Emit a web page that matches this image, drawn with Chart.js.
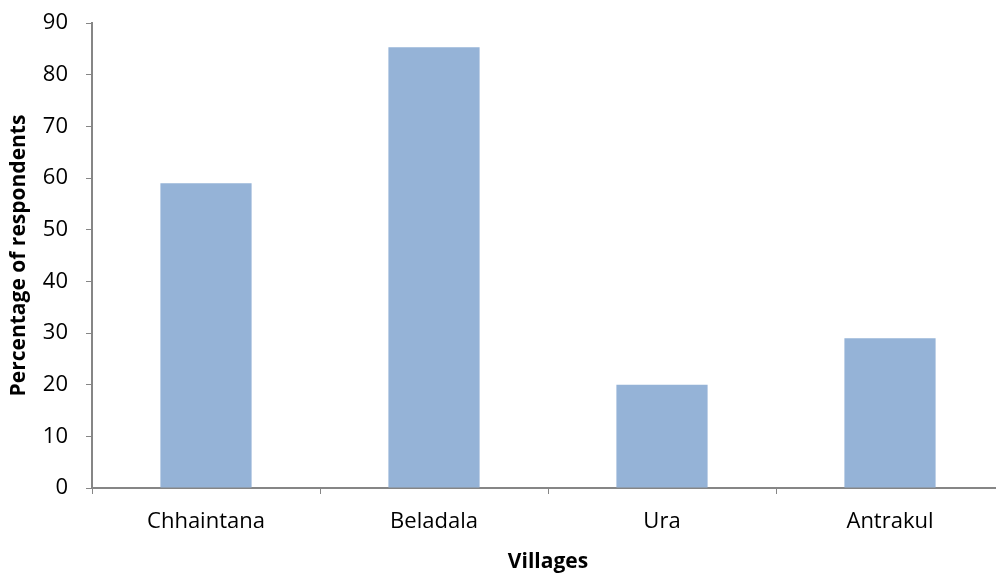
<!DOCTYPE html>
<html>
<head>
<meta charset="utf-8">
<script src="https://cdn.jsdelivr.net/npm/chart.js@4"></script>
<style>
  html, body { margin: 0; padding: 0; background: #fff; overflow: hidden; }
  #wrap { width: 1010px; height: 575px; position: relative; }
</style>
</head>
<body>
<div id="wrap"><canvas id="chart"></canvas></div>
<script>
"use strict";

const villages = ["Chhaintana", "Beladala", "Ura", "Antrakul"];
const respondentPct = [59, 85.3, 20, 29];
const yTicks = [0, 10, 20, 30, 40, 50, 60, 70, 80, 90];

const AXIS_GREY = "#868686";
const FONT = "'Open Sans', 'Noto Sans', sans-serif";

new Chart(document.getElementById("chart"), {
  type: "bar",
  data: {
    labels: villages,
    datasets: [
      {
        data: respondentPct,
        backgroundColor: "#95b3d7",
        borderWidth: 0,
        barPercentage: 0.4,
        categoryPercentage: 1,
      },
    ],
  },
  options: {
    responsive: true,
    maintainAspectRatio: false,
    animation: false,
    layout: { padding: { top: 23, right: 6, left: 0, bottom: 0 } },
    plugins: { legend: { display: false }, tooltip: { enabled: false } },
    scales: {
      x: {
        grid: {
          drawOnChartArea: false,
          drawTicks: true,
          tickLength: 6,
          color: AXIS_GREY,
          offset: true,
        },
        border: { color: AXIS_GREY, width: 2 },
        ticks: {
          color: "#000",
          font: { family: FONT, size: 22 },
          padding: 15,
          maxRotation: 0,
        },
        title: {
          display: true,
          text: "Villages",
          color: "#000",
          font: { family: FONT, size: 21, weight: "bold" },
          padding: { top: 0, bottom: 0 },
        },
        afterFit: (scale) => {
          scale.height = 87;
        },
      },
      y: {
        min: 0,
        max: 90,
        afterBuildTicks: (scale) => {
          scale.ticks = yTicks.map((v) => ({ value: v }));
        },
        grid: {
          drawOnChartArea: false,
          drawTicks: true,
          tickLength: 6,
          color: AXIS_GREY,
        },
        border: { color: AXIS_GREY, width: 2 },
        ticks: {
          color: "#000",
          // small lineHeight so the top label does not push the plot down
          font: { family: FONT, size: 22, lineHeight: 0.3 },
          padding: 18,
        },
        title: {
          display: true,
          text: "Percentage of respondents",
          color: "#000",
          font: { family: FONT, size: 21, weight: "bold" },
          padding: { top: 6, bottom: 0 },
        },
        afterFit: (scale) => {
          scale.width = 92;
        },
      },
    },
  },
});
</script>
</body>
</html>
